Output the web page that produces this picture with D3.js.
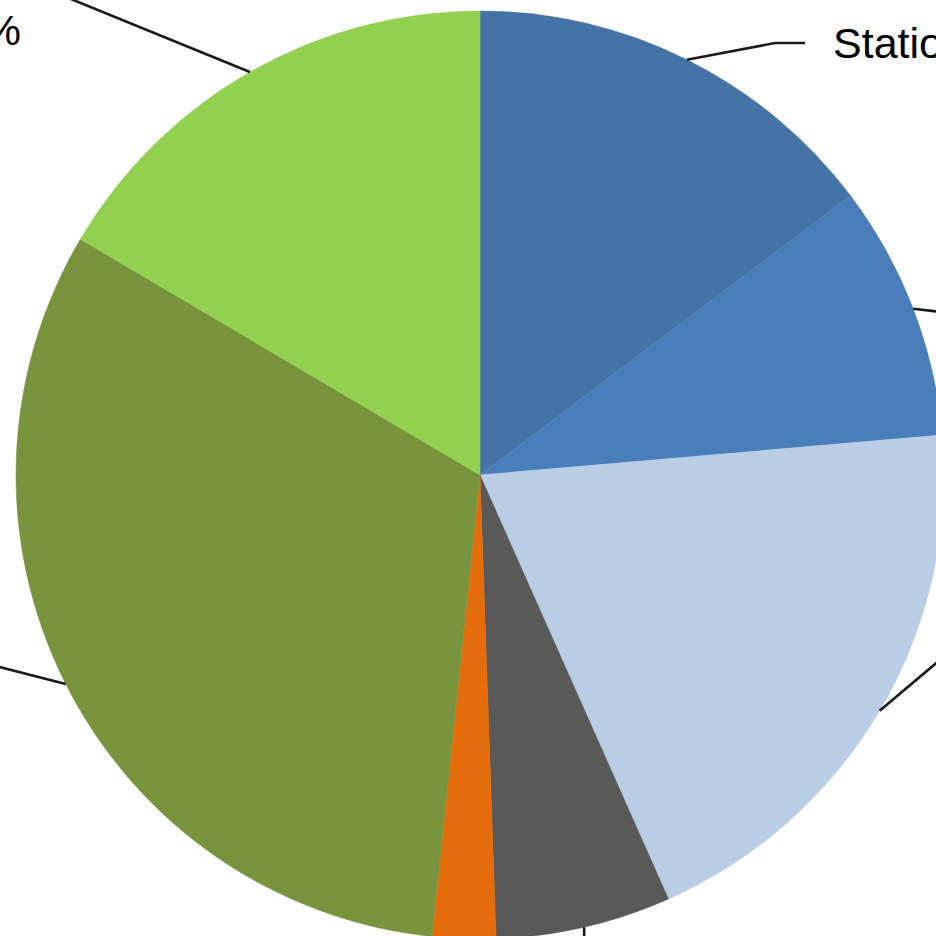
<!DOCTYPE html>
<html>
<head>
<meta charset="utf-8">
<script src="https://cdn.jsdelivr.net/npm/d3@7"></script>
<style>
  html, body { margin: 0; padding: 0; background: #fff; overflow: hidden; }
  svg { display: block; }
  .lbl { font-family: "Liberation Sans", Arial, sans-serif; font-size: 43px; fill: #000; }
</style>
</head>
<body>
<div id="chart"></div>
<script>
// chart data (clockwise from 12 o'clock)
let categories = ["Stationery", "Printing", "Postage", "Telephone", "Sundries", "Salaries", "Travel"];
let shares = [14.7, 8.9, 19.7, 6.1, 2.2, 31.8, 16.5];
let pctLabels = ["15%", "9%", "20%", "6%", "2%", "32%", "17%"];

// slice colours
let palette = ["#4572a7", "#4a7ebb", "#b9cde5", "#595959", "#e46c0a", "#77933c", "#92d050"];

let svgWidth = 936;
let svgHeight = 936;

// pie centre and radius
let cx = 480, cy = 475, radius = 464;

// leader line layout: elbow point and end of the horizontal run, relative to centre
let leaders = [
  { elbow: [295, -432], end: [325, -432], anchor: "start", lines: 1 },
  { elbow: [470, -162], end: [500, -162], anchor: "start", lines: 1 },
  { elbow: [480, 168], end: [510, 168], anchor: "start", lines: 1 },
  { elbow: [104, 500], end: [134, 500], anchor: "start", lines: 1 },
  { elbow: [-16, 500], end: [-46, 500], anchor: "end", lines: 1 },
  { elbow: [-520, 182], end: [-550, 182], anchor: "end", lines: 1 },
  { elbow: [-490, -509], end: [-490, -509], anchor: "end", lines: 2 }
];

let svg = d3.select("#chart")
  .append("svg")
  .attr("width", svgWidth)
  .attr("height", svgHeight);

let chartGroup = svg.append("g")
  .attr("transform", `translate(${cx}, ${cy})`);

let pie = d3.pie()
  .sort(null)
  .value(d => d);

let arcs = pie(shares);

let arc = d3.arc()
  .innerRadius(0)
  .outerRadius(radius);

chartGroup.selectAll("path.slice")
  .data(arcs)
  .enter()
  .append("path")
  .attr("class", "slice")
  .attr("d", arc)
  .attr("fill", (d, i) => palette[i])
  .attr("stroke", (d, i) => palette[i])
  .attr("stroke-width", 0.5);

// point on the rim at the middle of each slice
function rimPoint(d) {
  let a = (d.startAngle + d.endAngle) / 2;
  return [radius * Math.sin(a), -radius * Math.cos(a)];
}

// leader lines
chartGroup.selectAll("path.leader")
  .data(arcs)
  .enter()
  .append("path")
  .attr("class", "leader")
  .attr("d", (d, i) => d3.line()([rimPoint(d), leaders[i].elbow, leaders[i].end]))
  .attr("fill", "none")
  .attr("stroke", "#1a1a1a")
  .attr("stroke-width", 2.6);

// data labels
let labelGroup = chartGroup.selectAll("text.lbl")
  .data(arcs)
  .enter()
  .append("text")
  .attr("class", "lbl")
  .attr("text-anchor", (d, i) => leaders[i].anchor)
  .attr("x", (d, i) => leaders[i].end[0] + (leaders[i].anchor === "start" ? 28 : -28))
  .attr("y", (d, i) => leaders[i].end[1]);

labelGroup.each(function (d, i) {
  let t = d3.select(this);
  let L = leaders[i];
  if (L.lines === 1) {
    t.attr("dy", "0.35em").text(`${categories[i]} ${pctLabels[i]}`);
  } else {
    // two line label, right aligned, sitting below the leader end
    t.attr("x", -459).attr("y", -475);
    t.append("tspan").attr("x", -459).attr("dy", 0).text(categories[i]);
    t.append("tspan").attr("x", -459).attr("dy", 45).text(pctLabels[i]);
  }
});
</script>
</body>
</html>
